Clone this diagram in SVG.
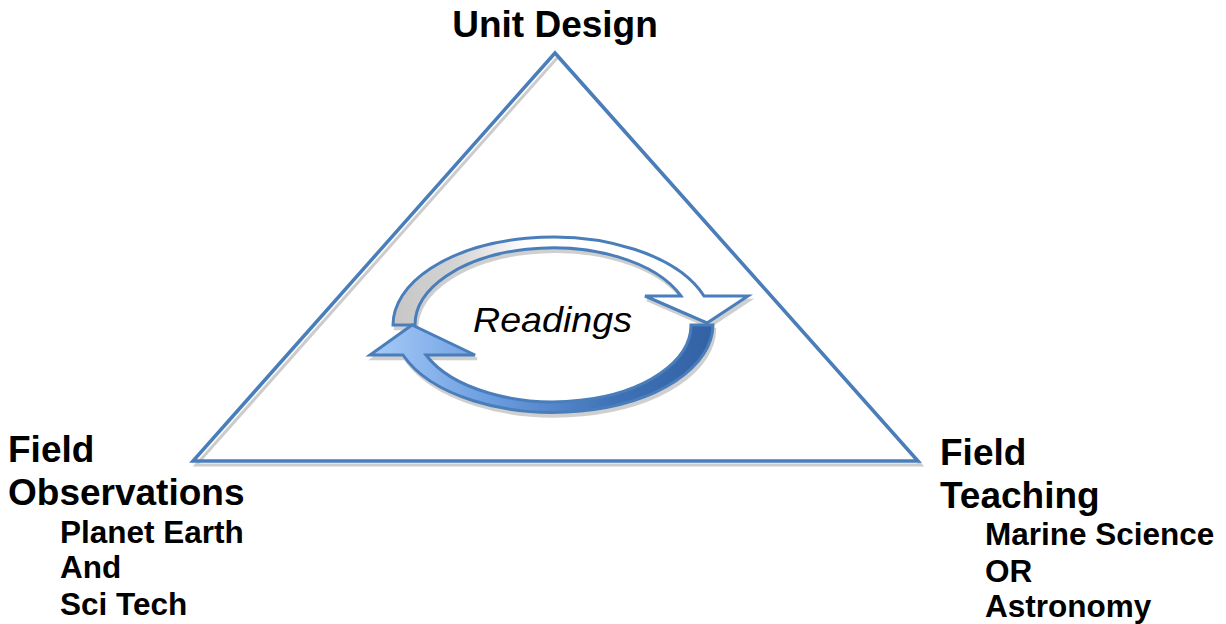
<svg xmlns="http://www.w3.org/2000/svg" width="1226" height="624" viewBox="0 0 1226 624">
<defs>
<style>
.lbl{font-family:"Liberation Sans",Arial,sans-serif;font-weight:bold;fill:#000}
.big{font-size:37px}
.sub{font-size:31.5px}
.tri{fill:none;stroke:#4a7ebb;stroke-width:3.5;stroke-linejoin:miter}
.arw{stroke:#4a7ebb;stroke-width:3;stroke-linejoin:miter}
.shd{fill:#c4c4c4;stroke:#c4c4c4;stroke-width:2.5}
</style>
<linearGradient id="gUp" x1="393" y1="0" x2="748" y2="0" gradientUnits="userSpaceOnUse">
<stop offset="0" stop-color="#c6c6c6"/>
<stop offset="0.18" stop-color="#d4d4d4"/>
<stop offset="0.38" stop-color="#ffffff"/>
<stop offset="1" stop-color="#ffffff"/>
</linearGradient>
<linearGradient id="gLow" x1="370" y1="0" x2="713" y2="0" gradientUnits="userSpaceOnUse">
<stop offset="0" stop-color="#a6cbf8"/>
<stop offset="0.35" stop-color="#6c9de0"/>
<stop offset="0.7" stop-color="#3f72b8"/>
<stop offset="1" stop-color="#3362a4"/>
</linearGradient>
</defs>
<rect width="1226" height="624" fill="#ffffff"/>

<g id="triangle">
<polygon points="558,57 196,465 921,465" fill="none" stroke="#cccccc" stroke-width="3"/>
<polygon class="tri" points="555,53 193,461 918,461" fill="#ffffff"/>
</g>

<g id="connectors">
<g id="cycle-shadow" transform="translate(2,4)" opacity="0.8">
<path class="shd" d="M 393,325 A 160 88 0 0 1 704,296 L 748,296 L 707,323 L 645,296 L 681,296 A 138 77 0 0 0 415,325 Z"/>
<path class="shd" d="M 713,325 A 160 88 0 0 1 403,355 L 370,355 L 412,325 L 475,355 L 426,355 A 138 77 0 0 0 691,325 Z"/>
</g>
<path id="arrow-upper" class="arw" fill="url(#gUp)" d="M 393,325 A 160 88 0 0 1 704,296 L 748,296 L 707,323 L 645,296 L 681,296 A 138 77 0 0 0 415,325 Z"/>
<path id="arrow-lower" class="arw" fill="url(#gLow)" d="M 713,325 A 160 88 0 0 1 403,355 L 370,355 L 412,325 L 475,355 L 426,355 A 138 77 0 0 0 691,325 Z"/>
</g>

<g id="node-readings">
<text x="473" y="332" textLength="159" lengthAdjust="spacingAndGlyphs" style="font-family:'Liberation Sans',Arial,sans-serif;font-style:italic;font-size:35px;fill:#000">Readings</text>
</g>

<g id="node-unit-design">
<text class="lbl big" x="555" y="37" text-anchor="middle">Unit Design</text>
</g>

<g id="node-field-observations">
<text class="lbl big" x="8" y="462">Field</text>
<text class="lbl big" x="8" y="505">Observations</text>
<text class="lbl sub" x="60" y="543">Planet Earth</text>
<text class="lbl sub" x="60" y="578">And</text>
<text class="lbl sub" x="60" y="615">Sci Tech</text>
</g>

<g id="node-field-teaching">
<text class="lbl big" x="940" y="465">Field</text>
<text class="lbl big" x="940" y="508">Teaching</text>
<text class="lbl sub" x="985" y="545">Marine Science</text>
<text class="lbl sub" x="985" y="582">OR</text>
<text class="lbl sub" x="985" y="617">Astronomy</text>
</g>
</svg>
